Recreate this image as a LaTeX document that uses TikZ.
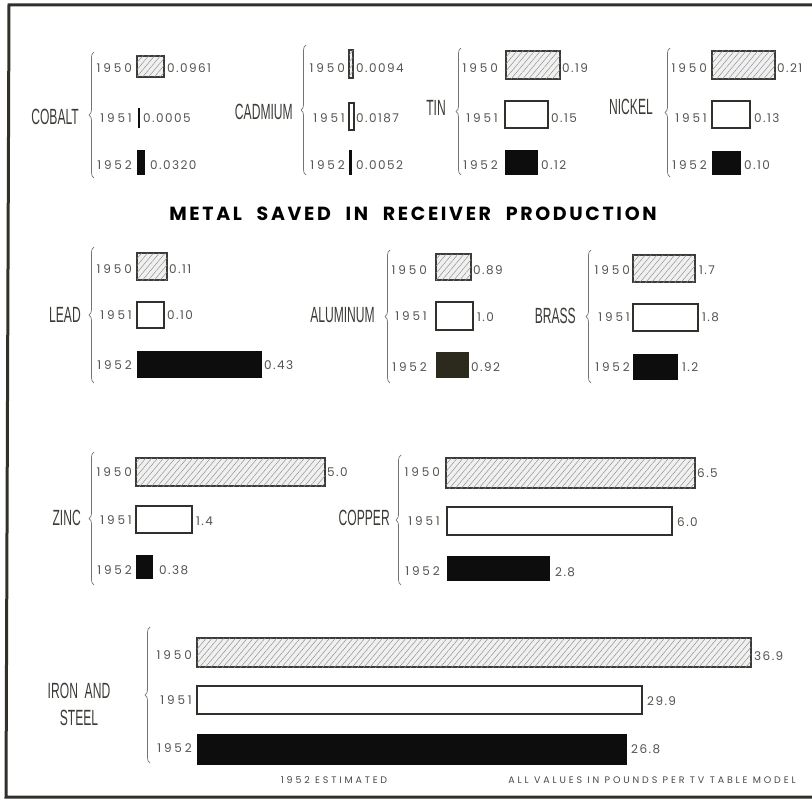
\documentclass[tikz,border=0pt]{standalone}
\usepackage{fontspec}
\usetikzlibrary{decorations.pathreplacing,patterns.meta}
\newfontfamily\lblfont[FakeStretch=0.55]{Liberation Sans}
\newfontfamily\numfont[LetterSpace=24]{Poppins}
\newfontfamily\valfont[LetterSpace=12]{Poppins}
\newfontfamily\titlefont[LetterSpace=14]{Poppins}
\newfontfamily\footfont[LetterSpace=30]{Poppins}
\definecolor{ink}{HTML}{1A1A14}
\definecolor{olive}{HTML}{2B2A1C}
\tikzset{
  metal/.style={font=\lblfont\fontsize{22}{24}\selectfont, text=ink!85, anchor=east, inner sep=0pt, align=center},
  yr/.style={font=\numfont\fontsize{12}{13}\selectfont, text=ink!75, anchor=east, inner sep=0pt},
  val/.style={font=\valfont\fontsize{12}{13}\selectfont, text=ink!75, anchor=west, inner sep=0pt},
  barbase/.style={anchor=north west, inner sep=0pt, outer sep=0pt},
  hatchbar/.style={barbase, draw=ink!85, line width=1.4pt, fill=black!6,
     postaction={pattern={Lines[angle=50,distance=4.5pt,line width=0.45pt]}, pattern color=black!45}},
  openbar/.style={barbase, draw=ink!90, line width=1.4pt, fill=white},
  solidbar/.style={barbase, fill=black!95, draw=none},
  brc/.style={decorate, decoration={brace, amplitude=5pt}, draw=black!55, line width=0.7pt},
  frame/.style={draw=ink!90, line width=3pt},
}
\begin{document}
\begin{tikzpicture}[x=1pt,y=-1pt]
\useasboundingbox (0,0) rectangle (812,800);
\fill[white] (0,0) rectangle (812,800);
\draw[frame] (812,5) -- (9,5) -- (6,797) -- (812,797);

% ---------------- COBALT
\node[metal] (cob) at (79,117) {COBALT};
\draw[brc] (94,178) -- (94,52);
\node[yr] (coby0) at (132,68) {1950};
\node[yr] (coby1) at (132,118) {1951};
\node[yr] (coby2) at (132,165) {1952};
\node[hatchbar, minimum width=27, minimum height=21] (cobb0) at (137,56) {};
\node[solidbar, minimum width=1.6, minimum height=20] (cobb1) at (138,108) {};
\node[solidbar, minimum width=8, minimum height=25] (cobb2) at (137,150) {};
\node[val] (cobv0) at (167,68) {0.0961};
\node[val] (cobv1) at (143,118) {0.0005};
\node[val] (cobv2) at (150,165) {0.0320};

% ---------------- CADMIUM
\node[metal] (cad) at (293,112) {CADMIUM};
\draw[brc] (306,175) -- (306,45);
\node[yr] (cady0) at (345,68) {1950};
\node[yr] (cady1) at (345,118) {1951};
\node[yr] (cady2) at (345,165) {1952};
\node[hatchbar, minimum width=4, minimum height=28] (cadb0) at (349,50) {};
\node[openbar, minimum width=5, minimum height=27] (cadb1) at (349,103) {};
\node[solidbar, minimum width=3, minimum height=25] (cadb2) at (349,150) {};
\node[val] (cadv0) at (356,68) {0.0094};
\node[val] (cadv1) at (356,118) {0.0187};
\node[val] (cadv2) at (356,165) {0.0052};

% ---------------- TIN
\node[metal] (tin) at (446,108) {TIN};
\draw[brc] (461,175) -- (461,48);
\node[yr] (tiny0) at (498,68) {1950};
\node[yr] (tiny1) at (498,118) {1951};
\node[yr] (tiny2) at (498,165) {1952};
\node[hatchbar, minimum width=54, minimum height=28] (tinb0) at (506,51) {};
\node[openbar, minimum width=43, minimum height=27] (tinb1) at (505,101) {};
\node[solidbar, minimum width=33, minimum height=25] (tinb2) at (505,150) {};
\node[val] (tinv0) at (562,68) {0.19};
\node[val] (tinv1) at (551,118) {0.15};
\node[val] (tinv2) at (541,165) {0.12};

% ---------------- NICKEL
\node[metal] (nic) at (653,107) {NICKEL};
\draw[brc] (670,177) -- (670,48);
\node[yr] (nicy0) at (707,68) {1950};
\node[yr] (nicy1) at (707,118) {1951};
\node[yr] (nicy2) at (707,165) {1952};
\node[hatchbar, minimum width=63, minimum height=28] (nicb0) at (712,51) {};
\node[openbar, minimum width=38, minimum height=27] (nicb1) at (712,101) {};
\node[solidbar, minimum width=29, minimum height=24] (nicb2) at (712,151) {};
\node[val] (nicv0) at (777,68) {0.21};
\node[val] (nicv1) at (754,118) {0.13};
\node[val] (nicv2) at (744,165) {0.10};

% ---------------- TITLE
\node[font=\titlefont\bfseries\fontsize{19}{21}\selectfont, text=black, inner sep=0pt] (title) at (413,214) {METAL\hspace{8pt} SAVED\hspace{8pt} IN\hspace{8pt} RECEIVER\hspace{8pt} PRODUCTION};

% ---------------- LEAD
\node[metal] (lea) at (81,315) {LEAD};
\draw[brc] (94,383) -- (94,247);
\node[yr] (leay0) at (132,269) {1950};
\node[yr] (leay1) at (132,315) {1951};
\node[yr] (leay2) at (132,365) {1952};
\node[hatchbar, minimum width=30, minimum height=27] (leab0) at (137,253) {};
\node[openbar, minimum width=27, minimum height=26] (leab1) at (137,302) {};
\node[solidbar, minimum width=125, minimum height=27] (leab2) at (137,351) {};
\node[val] (leav0) at (169,269) {0.11};
\node[val] (leav1) at (167,315) {0.10};
\node[val] (leav2) at (264,365) {0.43};

% ---------------- ALUMINUM
\node[metal] (alu) at (375,315) {ALUMINUM};
\draw[brc] (390,383) -- (390,250);
\node[yr] (aluy0) at (427,270) {1950};
\node[yr] (aluy1) at (427,316) {1951};
\node[yr] (aluy2) at (427,367) {1952};
\node[hatchbar, minimum width=35, minimum height=26] (alub0) at (436,254) {};
\node[openbar, minimum width=37, minimum height=28] (alub1) at (436,302) {};
\node[solidbar, fill=olive, minimum width=33, minimum height=26] (alub2) at (436,352) {};
\node[val] (aluv0) at (473,270) {0.89};
\node[val] (aluv1) at (477,317) {1.0};
\node[val] (aluv2) at (471,367) {0.92};

% ---------------- BRASS
\node[metal] (bra) at (576,316) {BRASS};
\draw[brc] (591,383) -- (591,250);
\node[yr] (bray0) at (630,270) {1950};
\node[yr] (bray1) at (630,317) {1951};
\node[yr] (bray2) at (630,367) {1952};
\node[hatchbar, minimum width=62, minimum height=27] (brab0) at (633,255) {};
\node[openbar, minimum width=65, minimum height=27] (brab1) at (633,304) {};
\node[solidbar, minimum width=45, minimum height=26] (brab2) at (633,354) {};
\node[val] (brav0) at (699,270) {1.7};
\node[val] (brav1) at (702,317) {1.8};
\node[val] (brav2) at (682,367) {1.2};

% ---------------- ZINC
\node[metal] (zin) at (81,518) {ZINC};
\draw[brc] (94,585) -- (94,452);
\node[yr] (ziny0) at (132,472) {1950};
\node[yr] (ziny1) at (132,520) {1951};
\node[yr] (ziny2) at (132,570) {1952};
\node[hatchbar, minimum width=189, minimum height=28] (zinb0) at (136,458) {};
\node[openbar, minimum width=56, minimum height=27] (zinb1) at (136,506) {};
\node[solidbar, minimum width=17, minimum height=24] (zinb2) at (136,555) {};
\node[val] (zinv0) at (327,472) {5.0};
\node[val] (zinv1) at (196,521) {1.4};
\node[val] (zinv2) at (159,570) {0.38};

% ---------------- COPPER
\node[metal] (cop) at (390,518) {COPPER};
\draw[brc] (401,585) -- (401,455);
\node[yr] (copy0) at (440,472) {1950};
\node[yr] (copy1) at (440,521) {1951};
\node[yr] (copy2) at (440,571) {1952};
\node[hatchbar, minimum width=249, minimum height=30] (copb0) at (446,458) {};
\node[openbar, minimum width=225, minimum height=28] (copb1) at (447,507) {};
\node[solidbar, minimum width=103, minimum height=25] (copb2) at (447,556) {};
\node[val] (copv0) at (697,473) {6.5};
\node[val] (copv1) at (677,522) {6.0};
\node[val] (copv2) at (555,572) {2.8};

% ---------------- IRON AND STEEL
\node[metal, anchor=center] (iro) at (79,704) {IRON\ \ AND\\[3pt]STEEL};
\draw[brc] (150,763) -- (150,627);
\node[yr] (iroy0) at (192,655) {1950};
\node[yr] (iroy1) at (192,700) {1951};
\node[yr] (iroy2) at (192,748) {1952};
\node[hatchbar, minimum width=554, minimum height=29] (irob0) at (197,638) {};
\node[openbar, minimum width=445, minimum height=28] (irob1) at (197,686) {};
\node[solidbar, minimum width=430, minimum height=31] (irob2) at (197,734) {};
\node[val] (irov0) at (754,656) {36.9};
\node[val] (irov1) at (647,701) {29.9};
\node[val] (irov2) at (631,749) {26.8};

% ---------------- FOOTER
\node[font=\footfont\fontsize{9.5}{10}\selectfont, text=ink!80, inner sep=0pt] (est) at (334,780) {1952 ESTIMATED};
\node[font=\footfont\fontsize{9.5}{10}\selectfont, text=ink!80, inner sep=0pt] (note) at (652,780) {ALL VALUES IN POUNDS PER TV TABLE MODEL};
\end{tikzpicture}
\end{document}
